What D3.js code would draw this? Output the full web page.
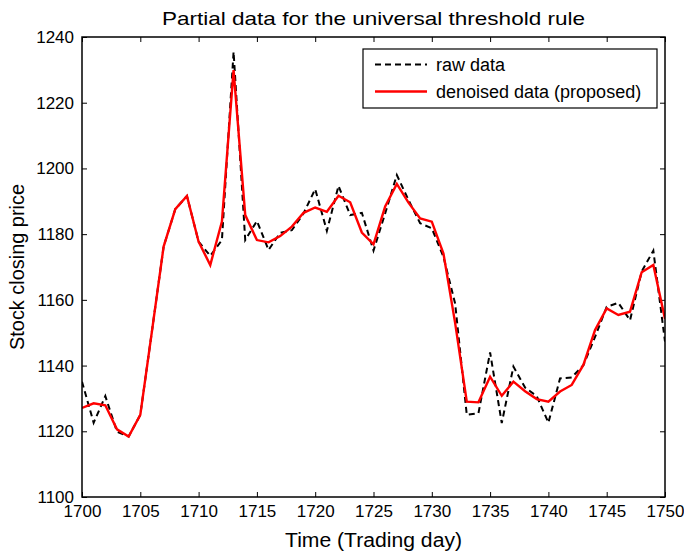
<!DOCTYPE html>
<html>
<head>
<meta charset="utf-8">
<script src="https://cdn.jsdelivr.net/npm/d3@7"></script>
<style>
  html, body { margin: 0; padding: 0; background: #fff; }
  svg { display: block; font-family: "Liberation Sans", Arial, sans-serif; }
</style>
</head>
<body>
<svg id="chart" width="684" height="555"></svg>
<script>
// Trading days 1700..1750
const days = d3.range(1700, 1751);

// Raw closing prices
const rawPrices = [
  1135.1, 1122.6, 1130.7, 1119.9, 1118.4, 1125.0, 1150.5, 1176.2, 1187.6, 1191.6,
  1177.7, 1173.4, 1178.2, 1235.5, 1178.2, 1184.0, 1175.2, 1180.4, 1181.2, 1186.3,
  1193.7, 1181.0, 1194.7, 1185.8, 1186.5, 1175.0, 1186.3, 1198.0, 1190.4, 1183.3,
  1181.8, 1173.1, 1158.9, 1125.0, 1125.5, 1144.0, 1122.5, 1139.7, 1133.3, 1130.7,
  1122.6, 1136.1, 1136.4, 1140.1, 1148.7, 1157.9, 1159.1, 1153.8, 1168.6, 1175.0,
  1147.3
];

// Denoised prices (proposed method)
const denoisedPrices = [
  1127.1, 1128.5, 1127.9, 1120.6, 1118.4, 1125.0, 1150.5, 1176.2, 1187.6, 1191.6,
  1177.7, 1170.6, 1183.8, 1229.9, 1185.8, 1178.2, 1177.5, 1179.4, 1182.3, 1186.5,
  1188.1, 1186.8, 1191.7, 1189.7, 1180.5, 1176.9, 1188.4, 1195.3, 1189.6, 1184.8,
  1183.8, 1174.1, 1153.0, 1129.0, 1128.8, 1136.6, 1130.8, 1135.1, 1132.2, 1129.8,
  1129.0, 1132.1, 1134.1, 1140.2, 1150.8, 1157.4, 1155.4, 1156.4, 1168.4, 1170.6,
  1154.2
];

const xTicks = d3.range(1700, 1751, 5);
const yTicks = d3.range(1100, 1241, 20);

const titleText = "Partial data for the universal threshold rule";
const xLabel = "Time (Trading day)";
const yLabel = "Stock closing price";
const legendLabels = ["raw data", "denoised data (proposed)"];

const svg = d3.select("#chart");
const plot = { left: 82, right: 665, top: 37, bottom: 497 };

const x = d3.scaleLinear().domain([1700, 1750]).range([plot.left, plot.right]);
const y = d3.scaleLinear().domain([1100, 1240]).range([plot.bottom, plot.top]);

const tickFont = "17px";
const legendFont = "18px";

// Axes: ticks point inward, mirrored on the top and right edges
const bottomAxis = d3.axisBottom(x).tickValues(xTicks).tickFormat(d3.format("d"))
  .tickSizeInner(-5).tickSizeOuter(0).tickPadding(8);
const topAxis = d3.axisTop(x).tickValues(xTicks).tickFormat("")
  .tickSizeInner(-5).tickSizeOuter(0);
const leftAxis = d3.axisLeft(y).tickValues(yTicks).tickFormat(d3.format("d"))
  .tickSizeInner(-5).tickSizeOuter(0).tickPadding(8);
const rightAxis = d3.axisRight(y).tickValues(yTicks).tickFormat("")
  .tickSizeInner(-5).tickSizeOuter(0);

function styleAxis(g) {
  g.select(".domain").remove();
  g.selectAll(".tick line").attr("stroke", "#000").attr("stroke-width", 1);
  g.selectAll(".tick text").attr("fill", "#000").style("font-size", tickFont);
}

svg.append("g").attr("transform", `translate(0,${plot.bottom})`).call(bottomAxis).call(styleAxis);
svg.append("g").attr("transform", `translate(0,${plot.top})`).call(topAxis).call(styleAxis);
svg.append("g").attr("transform", `translate(${plot.left},0)`).call(leftAxis).call(styleAxis);
svg.append("g").attr("transform", `translate(${plot.right},0)`).call(rightAxis).call(styleAxis);

// Clip so lines stay inside the frame
svg.append("clipPath").attr("id", "plotClip")
  .append("rect")
  .attr("x", plot.left).attr("y", plot.top)
  .attr("width", plot.right - plot.left).attr("height", plot.bottom - plot.top);

const line = d3.line().x(d => x(d[0])).y(d => y(d[1]));

const series = [
  { values: rawPrices, color: "#000", width: 2, dash: "6,4" },
  { values: denoisedPrices, color: "#ff0000", width: 2.4, dash: null }
];

const lines = svg.append("g").attr("clip-path", "url(#plotClip)");
series.forEach(s => {
  lines.append("path")
    .datum(days.map((d, i) => [d, s.values[i]]))
    .attr("fill", "none")
    .attr("stroke", s.color)
    .attr("stroke-width", s.width)
    .attr("stroke-dasharray", s.dash)
    .attr("stroke-linejoin", "miter")
    .attr("d", line);
});

// Frame
svg.append("rect")
  .attr("x", plot.left).attr("y", plot.top)
  .attr("width", plot.right - plot.left).attr("height", plot.bottom - plot.top)
  .attr("fill", "none").attr("stroke", "#000").attr("stroke-width", 1.5);

// Legend
const legend = svg.append("g");
legend.append("rect")
  .attr("x", 363).attr("y", 49).attr("width", 294).attr("height", 59)
  .attr("fill", "#fff").attr("stroke", "#000").attr("stroke-width", 1.2);
const legendRows = [64.5, 91.5];
series.forEach((s, i) => {
  legend.append("line")
    .attr("x1", 375).attr("x2", 427)
    .attr("y1", legendRows[i]).attr("y2", legendRows[i])
    .attr("stroke", s.color).attr("stroke-width", s.width)
    .attr("stroke-dasharray", s.dash);
  legend.append("text")
    .attr("x", 436).attr("y", legendRows[i])
    .attr("dy", "0.35em")
    .style("font-size", legendFont)
    .text(legendLabels[i]);
});

// Title and axis labels (slightly widened glyphs)
const cx = (plot.left + plot.right) / 2;
svg.append("text")
  .attr("x", cx).attr("y", 25)
  .attr("text-anchor", "middle").style("font-size", "18.5px")
  .attr("textLength", 423).attr("lengthAdjust", "spacingAndGlyphs")
  .text(titleText);

svg.append("text")
  .attr("x", cx).attr("y", 547)
  .attr("text-anchor", "middle").style("font-size", "19.5px")
  .attr("textLength", 177).attr("lengthAdjust", "spacingAndGlyphs")
  .text(xLabel);

svg.append("text")
  .attr("transform", `translate(24,${(plot.top + plot.bottom) / 2}) rotate(-90)`)
  .attr("text-anchor", "middle").style("font-size", "19.5px")
  .attr("textLength", 166).attr("lengthAdjust", "spacingAndGlyphs")
  .text(yLabel);
</script>
</body>
</html>
